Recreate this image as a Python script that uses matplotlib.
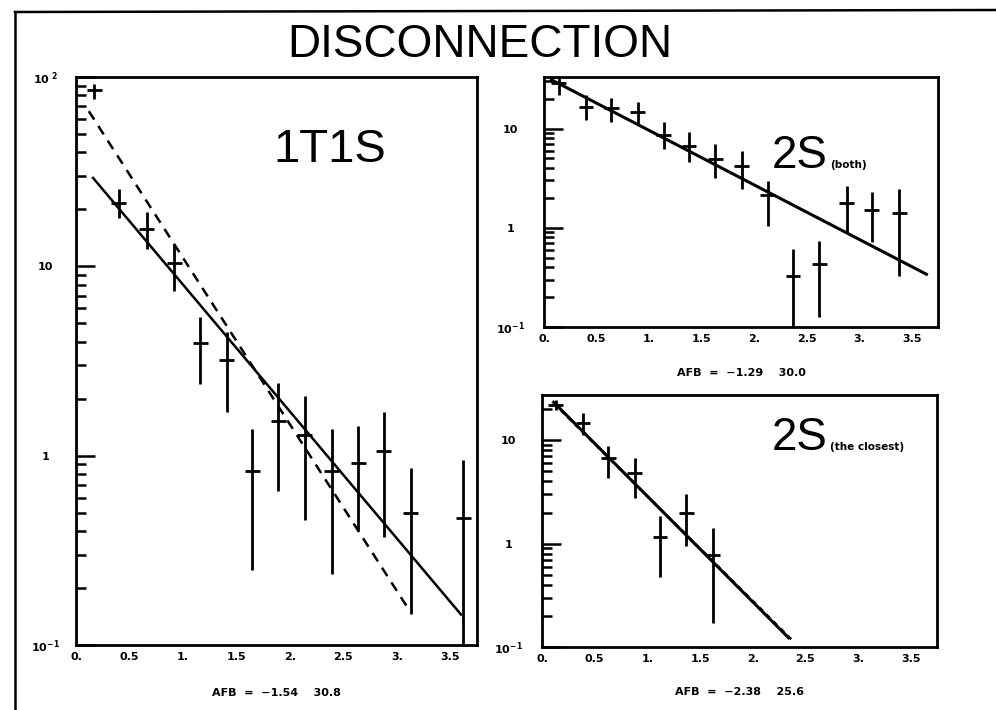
import matplotlib
matplotlib.use("Agg")
import matplotlib.pyplot as plt
from matplotlib.lines import Line2D
from matplotlib.ticker import FixedLocator, LogLocator, NullFormatter

plt.rcParams['mathtext.default'] = 'bf'

# 1T1S panel
x_1t1s = [0.17, 0.40, 0.66, 0.92, 1.16, 1.41, 1.65, 1.89, 2.14, 2.39, 2.64, 2.88, 3.13, 3.62]
y_1t1s = [85, 21.5, 15.7, 10.4, 3.94, 3.2, 0.83, 1.53, 1.28, 0.83, 0.92, 1.06, 0.50, 0.47]
lo_1t1s = [77, 18, 12.4, 7.4, 2.4, 1.7, 0.25, 0.65, 0.455, 0.237, 0.40, 0.37, 0.145, 0.1]
hi_1t1s = [92, 25.7, 19.4, 13.1, 5.4, 4.5, 1.38, 2.42, 2.06, 1.38, 1.43, 1.71, 0.86, 0.95]
fit_1t1s_x = [0.16, 3.60]
fit_1t1s_y = [29.3, 0.145]
dash_1t1s_x = [0.12, 3.10]
dash_1t1s_y = [66, 0.158]

# 2S (both) panel
x_both = [0.14, 0.40, 0.64, 0.89, 1.14, 1.38, 1.63, 1.88, 2.13, 2.37, 2.62, 2.88, 3.12, 3.38]
y_both = [29, 16.6, 16.2, 14.5, 8.7, 6.6, 4.9, 4.2, 2.14, 0.33, 0.43, 1.78, 1.51, 1.41]
lo_both = [22, 12.3, 11.7, 11, 6.2, 4.6, 3.2, 2.45, 1.05, 0.1, 0.126, 0.91, 0.72, 0.33]
hi_both = [33, 22, 20.4, 18.6, 11.7, 9.3, 6.9, 5.9, 2.95, 0.61, 0.74, 2.63, 2.29, 2.45]
fit_both_x = [0.07, 3.64]
fit_both_y = [31, 0.34]

# 2S (the closest) panel
x_close = [0.13, 0.39, 0.63, 0.88, 1.12, 1.37, 1.62]
y_close = [22, 14.6, 6.8, 4.8, 1.17, 2.0, 0.78]
lo_close = [19.5, 11.2, 4.37, 2.74, 0.48, 0.94, 0.17]
hi_close = [24.5, 18.3, 8.9, 6.8, 1.87, 3.05, 1.43]
fit_close_x = [0.11, 2.34]
fit_close_y = [23.4, 0.123]
dash_close_x = [0.11, 2.38]
dash_close_y = [23.0, 0.115]

x_ticks = [0, 0.5, 1, 1.5, 2, 2.5, 3, 3.5]
x_ticklabels = ['0.', '0.5', '1.', '1.5', '2.', '2.5', '3.', '3.5']
y_ticks = [0.1, 1, 10, 100]
y_ticklabels = ['10$^{-1}$', '1', '10', '10$^{\\ 2}$']

BIG = ['Liberation Sans Narrow', 'Liberation Sans', 'DejaVu Sans']


def setup(ax, ytop, ylabelpad):
    ax.set_yscale('log')
    ax.set_xlim(0, 3.75)
    ax.set_ylim(0.1, ytop)
    for s in ax.spines.values():
        s.set_linewidth(2.0)
    ax.xaxis.set_major_locator(FixedLocator(x_ticks))
    ax.set_xticklabels(x_ticklabels, fontsize=8, fontweight='bold')
    ax.tick_params(axis='x', length=0, pad=5)
    ax.yaxis.set_major_locator(FixedLocator(y_ticks))
    ax.yaxis.set_minor_locator(LogLocator(base=10, subs=range(2, 10)))
    ax.yaxis.set_minor_formatter(NullFormatter())
    ax.set_yticklabels(y_ticklabels, fontsize=8, fontweight='bold', ha='center')
    ax.tick_params(axis='y', which='major', direction='in', length=14, width=1.8,
                   left=True, right=False, pad=ylabelpad)
    ax.tick_params(axis='y', which='minor', direction='in', length=7, width=1.8,
                   left=True, right=False)


def points(ax, x, y, lo, hi):
    yerr = [[v - l for v, l in zip(y, lo)], [h - v for v, h in zip(y, hi)]]
    ax.errorbar(x, y, yerr=yerr, xerr=0.07, fmt='none', ecolor='black',
                elinewidth=2.0, capsize=0)


fig = plt.figure(figsize=(9.96, 7.10), dpi=100)

ax1 = fig.add_axes([0.0763, 0.0915, 0.4026, 0.8])
ax2 = fig.add_axes([0.5462, 0.5394, 0.3956, 0.3521])
ax3 = fig.add_axes([0.5442, 0.0887, 0.3966, 0.355])

setup(ax1, 100, 22)
setup(ax2, 33, 24)
setup(ax3, 27.5, 24)

points(ax1, x_1t1s, y_1t1s, lo_1t1s, hi_1t1s)
ax1.plot(fit_1t1s_x, fit_1t1s_y, color='black', lw=1.8)
ax1.plot(dash_1t1s_x, dash_1t1s_y, color='black', lw=1.8, ls=(0, (4, 3)))
ax1.text(0.633, 0.871, '1T1S', transform=ax1.transAxes, ha='center', va='center',
         fontsize=34, family=BIG)
ax1.text(0.5, -0.0845, 'AFB  =  \u22121.54    30.8', transform=ax1.transAxes,
         ha='center', va='center', fontsize=8, fontweight='bold')

points(ax2, x_both, y_both, lo_both, hi_both)
ax2.plot(fit_both_x, fit_both_y, color='black', lw=2.2)
ax2.text(0.721, 0.636, '2S', transform=ax2.transAxes, ha='right', va='baseline',
         fontsize=33, family=BIG)
ax2.text(0.726, 0.636, '(both)', transform=ax2.transAxes, ha='left', va='baseline',
         fontsize=7.5, fontweight='bold')
ax2.text(0.5, -0.184, 'AFB  =  \u22121.29    30.0', transform=ax2.transAxes,
         ha='center', va='center', fontsize=8, fontweight='bold')

points(ax3, x_close, y_close, lo_close, hi_close)
ax3.plot(fit_close_x, fit_close_y, color='black', lw=2.2)
ax3.plot(dash_close_x, dash_close_y, color='black', lw=1.8, ls=(0, (2, 2)))
ax3.text(0.724, 0.782, '2S', transform=ax3.transAxes, ha='right', va='baseline',
         fontsize=33, family=BIG)
ax3.text(0.729, 0.782, '(the closest)', transform=ax3.transAxes, ha='left',
         va='baseline', fontsize=7.5, fontweight='bold')
ax3.text(0.5, -0.179, 'AFB  =  \u22122.38    25.6', transform=ax3.transAxes,
         ha='center', va='center', fontsize=8, fontweight='bold')

# title and outer frame
fig.text(480 / 996, 1 - 45 / 710, 'DISCONNECTION', ha='center', va='center',
         fontsize=33, family=BIG)
fig.add_artist(Line2D([15 / 996, 15 / 996], [0, 1 - 12 / 710], color='black', lw=1.8))
fig.add_artist(Line2D([15 / 996, 1], [1 - 12 / 710, 1 - 10 / 710], color='black', lw=1.8))

fig.savefig('out.png', dpi=100)
